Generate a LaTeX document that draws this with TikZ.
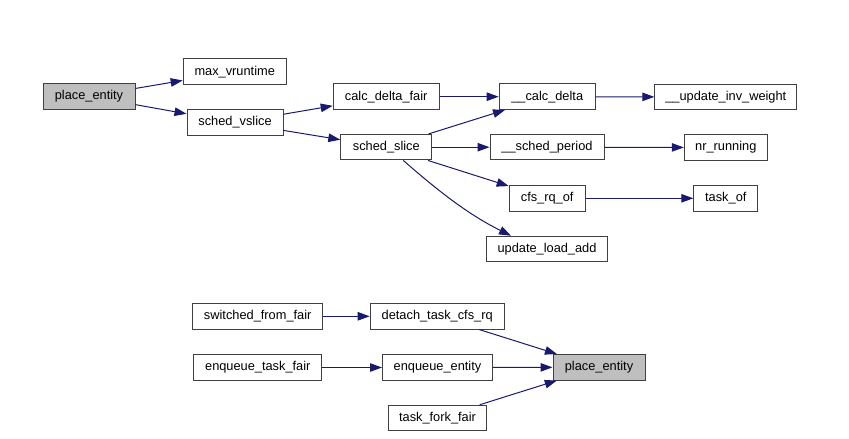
\documentclass[tikz,border=0pt]{standalone}
\usepackage{fontspec}
\setmainfont{Liberation Sans}
\usetikzlibrary{arrows.meta}
\definecolor{edgec}{HTML}{191970}
\definecolor{boxc}{HTML}{404040}
\definecolor{grayfill}{HTML}{BFBFBF}
\begin{document}
\begin{tikzpicture}[x=1pt,y=-1pt,
  fn/.style={draw=boxc, line width=1pt, fill=white, inner sep=0pt, minimum height=25.5pt,
    font=\fontsize{12.8}{14}\selectfont, text=black},
  cur/.style={fn, fill=grayfill},
  call/.style={draw=edgec, line width=1pt, -{Triangle[length=12pt,width=8.5pt]}}]
\useasboundingbox (0,0) rectangle (849,439);
\node[cur, minimum width=92pt] (pe1) at (89,96.3) {place\_entity};
\node[fn, minimum width=103pt] (maxv) at (234.7,71.7) {max\_vruntime};
\node[fn, minimum width=96pt] (vslice) at (235,122.5) {sched\_vslice};
\node[fn, minimum width=106pt] (cdf) at (386.2,96.7) {calc\_delta\_fair};
\node[fn, minimum width=96pt] (cd) at (547.2,96.7) {\_\_calc\_delta};
\node[fn, minimum width=91pt] (ss) at (386.3,147.2) {sched\_slice};
\node[fn, minimum width=114pt] (sp) at (547,147.2) {\_\_sched\_period};
\node[fn, minimum width=76pt] (cfs) at (547.2,198.3) {cfs\_rq\_of};
\node[fn, minimum width=121pt] (ula) at (547,249) {update\_load\_add};
\node[fn, minimum width=142pt] (uiw) at (725.8,97) {\_\_update\_inv\_weight};
\node[fn, minimum width=83pt] (nr) at (725.8,147.5) {nr\_running};
\node[fn, minimum width=64pt] (tof) at (725.8,198.3) {task\_of};

\node[fn, minimum width=130pt] (sff) at (257.7,316.3) {switched\_from\_fair};
\node[fn, minimum width=134pt] (dtc) at (437.2,316.3) {detach\_task\_cfs\_rq};
\node[fn, minimum width=128pt] (etf) at (257.8,367.5) {enqueue\_task\_fair};
\node[fn, minimum width=110pt] (ee) at (437.5,367.5) {enqueue\_entity};
\node[cur, minimum width=92pt] (pe2) at (599,367.3) {place\_entity};
\node[fn, minimum width=98pt] (tff) at (437.5,418) {task\_fork\_fair};

\draw[call] (pe1) -- (maxv);
\draw[call] (pe1) -- (vslice);
\draw[call] (vslice) -- (cdf);
\draw[call] (vslice) -- (ss);
\draw[call] (cdf) -- (cd);
\draw[call] (ss) -- (cd);
\draw[call] (ss) -- (sp);
\draw[call] (ss) -- (cfs);
\draw[call] ([xshift=17pt]ss.south) .. controls +(40,35) and +(-40,-20) .. ([xshift=-36pt]ula.north);
\draw[call] (cd) -- (uiw);
\draw[call] (sp) -- (nr);
\draw[call] (cfs) -- (tof);

\draw[call] (sff) -- (dtc);
\draw[call] (etf) -- (ee);
\draw[call] (dtc) -- (pe2);
\draw[call] (ee) -- (pe2);
\draw[call] (tff) -- (pe2);
\end{tikzpicture}
\end{document}
